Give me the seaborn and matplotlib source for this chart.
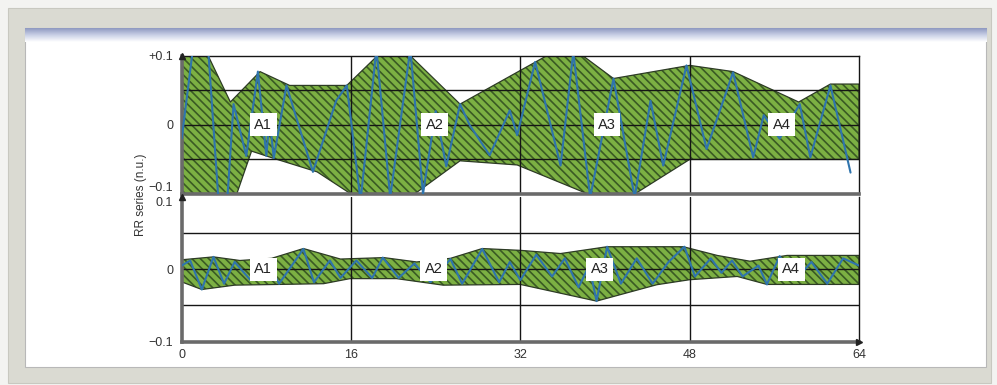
import numpy as np
import pandas as pd
import matplotlib
matplotlib.use("Agg")
import matplotlib.pyplot as plt
import seaborn as sns
from matplotlib.patches import Rectangle

# ---- RR series, upper panel (normalised units) ----
top_t = [0.0, 1.1, 2.5, 3.5, 4.3, 4.9, 6.1, 7.2, 8.0, 8.3, 8.7, 9.9, 12.4, 14.6, 15.6,
         16.9, 18.4, 19.7, 21.6, 22.8, 24.0, 25.0, 26.3, 27.2, 29.1, 31.0, 31.7, 33.4,
         35.8, 37.0, 38.6, 40.8, 42.8, 44.3, 45.5, 47.7, 49.6, 52.1, 54.0, 55.0, 56.5,
         58.4, 59.4, 61.3, 63.2]
top_rr = [-0.02, 0.115, 0.11, -0.115, -0.11, 0.03, -0.045, 0.077, -0.045, 0.01, -0.048,
          0.057, -0.068, 0.035, 0.057, -0.11, 0.11, -0.105, 0.11, -0.10, 0.02, -0.06,
          0.03, 0.0, -0.044, 0.021, -0.015, 0.091, -0.059, 0.105, -0.105, 0.067, -0.105,
          0.035, -0.059, 0.086, -0.035, 0.076, -0.047, 0.014, -0.02, 0.030, -0.047,
          0.057, -0.069]

# envelope of the upper panel
top_up_t = [0, 2.5, 4.6, 7.4, 10.2, 15.6, 18.5, 21.6, 26.3, 34.5, 37.9, 40.8, 48.0,
            52.1, 58.3, 61.3, 64]
top_up_v = [0.1, 0.1, 0.033, 0.077, 0.057, 0.057, 0.1, 0.1, 0.030, 0.1, 0.1, 0.067,
            0.086, 0.077, 0.033, 0.059, 0.059]
top_lo_t = [0, 5.2, 6.6, 8.6, 12.8, 16.0, 22.0, 26.3, 31.7, 38.4, 42.8, 48.0, 64]
top_lo_v = [-0.1, -0.1, -0.038, -0.048, -0.068, -0.1, -0.1, -0.052, -0.058, -0.1,
            -0.1, -0.05, -0.05]

# ---- RR series, lower panel ----
bot_t = [0, 0.8, 1.9, 3.0, 4.0, 5.0, 6.5, 8.0, 9.2, 11.5, 12.5, 14.0, 15.0, 16.5, 18.0,
         19.0, 20.5, 22.0, 23.5, 25.4, 26.5, 28.4, 30.0, 31.0, 32.0, 33.5, 35.0, 36.2,
         37.5, 38.5, 39.2, 40.2, 41.5, 43.0, 44.5, 46.0, 47.5, 48.5, 50.0, 51.0, 52.0,
         53.0, 54.5, 55.3, 56.5, 58.0, 59.5, 61.0, 62.5, 64]
bot_rr = [0.005, 0.012, -0.028, 0.017, -0.02, 0.01, -0.015, 0.012, -0.02, 0.028, -0.018,
          0.012, -0.012, 0.012, -0.012, 0.016, -0.012, 0.008, -0.018, 0.014, -0.02,
          0.028, -0.018, 0.01, -0.015, 0.02, -0.01, 0.015, -0.025, 0.005, -0.044, 0.031,
          -0.02, 0.015, -0.02, 0.01, 0.031, -0.01, 0.015, -0.005, 0.012, -0.01, 0.005,
          -0.021, 0.018, -0.015, 0.01, -0.02, 0.015, 0.005]

bot_up_t = [0, 3.0, 5.5, 8.5, 11.5, 15.0, 19.1, 22.2, 25.4, 28.4, 32.0, 35.8, 40.2,
            47.4, 50.6, 53.7, 57.2, 64]
bot_up_v = [0.013, 0.017, 0.012, 0.015, 0.0285, 0.014, 0.016, 0.010, 0.015, 0.0285,
            0.026, 0.0216, 0.031, 0.031, 0.019, 0.011, 0.019, 0.019]
bot_lo_t = [0, 1.9, 5.0, 13.4, 15.9, 20.3, 24.7, 32.0, 39.2, 44.9, 48.0, 52.5, 55.3, 64]
bot_lo_v = [-0.0175, -0.028, -0.022, -0.02, -0.013, -0.013, -0.022, -0.021, -0.044,
            -0.0214, -0.0145, -0.010, -0.021, -0.021]

seg_names = ["A1", "A2", "A3", "A4"]
top_label_t = [7.7, 23.9, 40.2, 56.7]
bot_label_t = [7.7, 23.8, 39.5, 57.6]
x_ticks = [0, 16, 32, 48, 64]
top_ytick_labels = ["\u22120.1", "0", "+0.1"]
bot_ytick_labels = ["\u22120.1", "0", "0.1"]

sns.set_style("white")
plt.rcParams["font.family"] = ["Liberation Sans", "DejaVu Sans"]
plt.rcParams["hatch.linewidth"] = 1.2

W, H = 997, 385
fig = plt.figure(figsize=(W / 100, H / 100), dpi=100)
fig.patch.set_facecolor("#f3f3f1")


def px_rect(x0, y0, x1, y1, **kw):
    """Rectangle given in pixel coordinates measured from the top-left corner."""
    r = Rectangle((x0 / W, 1 - y1 / H), (x1 - x0) / W, (y1 - y0) / H,
                  transform=fig.transFigure, **kw)
    fig.add_artist(r)
    return r


# window-style frame behind the chart
px_rect(8, 8, 991, 383, fc="#dadad2", ec="#c8c8c0", lw=0.8, zorder=-10)
px_rect(25, 28, 986, 367, fc="white", ec="#b8b8b8", lw=0.8, zorder=-9)
bar_ax = fig.add_axes([25 / W, 1 - 42 / H, (986 - 25) / W, 14 / H], zorder=-8)
grad = np.linspace(0, 1, 64)[:, None]
bar_ax.imshow(grad, aspect="auto", cmap=matplotlib.colors.LinearSegmentedColormap.from_list(
    "bar", ["#8e98c0", "#c9d0e6", "#ffffff"]), extent=[0, 1, 0, 1], origin="upper")
bar_ax.set_axis_off()

x_left, x_right = 181.7, 859
ax_top = fig.add_axes([x_left / W, 1 - 194 / H, (x_right - x_left) / W, (194 - 55.7) / H])
ax_bot = fig.add_axes([x_left / W, 1 - 341.7 / H, (x_right - x_left) / W, (341.7 - 196.7) / H])

fill_light = "#7cb043"
hatch_dark = "#3a5a24"
blue = "#2f74ad"
spine_gray = "#6a6a6a"

panels = [
    (ax_top, top_t, top_rr, top_up_t, top_up_v, top_lo_t, top_lo_v, top_label_t, top_ytick_labels),
    (ax_bot, bot_t, bot_rr, bot_up_t, bot_up_v, bot_lo_t, bot_lo_v, bot_label_t, bot_ytick_labels),
]

for ax, t, rr, ut, uv, lt, lv, lab_t, ylabels in panels:
    ax.set_facecolor("none")
    # envelope polygon: upper boundary forward, lower boundary backward
    poly_x = list(ut) + list(lt)[::-1]
    poly_y = list(uv) + list(lv)[::-1]
    ax.fill(poly_x, poly_y, facecolor=fill_light, edgecolor=hatch_dark,
            hatch="\\\\\\\\", linewidth=0, zorder=1)
    ax.plot(poly_x + [poly_x[0]], poly_y + [poly_y[0]], color="#2d3b25", lw=0.9, zorder=1.5)

    # reference grid
    for yv in (-0.05, 0, 0.05):
        ax.axhline(yv, color="#151515", lw=1.0, zorder=2)
    for xv in (16, 32, 48):
        ax.axvline(xv, color="#151515", lw=1.0, zorder=2)

    df = pd.DataFrame({"t": t, "rr": rr})
    sns.lineplot(data=df, x="t", y="rr", ax=ax, color=blue, lw=1.5,
                 estimator=None, sort=False, zorder=3)

    for name, xl in zip(seg_names, lab_t):
        ax.text(xl, 0, name, ha="center", va="center", fontsize=10.5, color="#222222",
                zorder=4, bbox=dict(boxstyle="square,pad=0.3", fc="white", ec="none"))

    ax.set_xlim(0, 64)
    ax.set_ylim(-0.1, 0.1)
    ax.set_xlabel("")
    ax.set_ylabel("")
    ax.set_yticks([-0.1, 0, 0.1])
    ax.set_yticklabels(ylabels)
    ax.tick_params(axis="y", length=0, pad=6, labelsize=9, labelcolor="#333333")
    ax.spines["left"].set_color(spine_gray)
    ax.spines["left"].set_linewidth(2.6)
    ax.spines["bottom"].set_color(spine_gray)
    ax.spines["bottom"].set_linewidth(2.6)
    ax.spines["right"].set_color("#151515")
    ax.spines["right"].set_linewidth(1.0)
    # small arrow head on top of the value axis
    ax.plot(0, 1, marker="^", ms=4, color="#222222", transform=ax.transAxes,
            clip_on=False, zorder=5)

ax_top.spines["top"].set_color("#151515")
ax_top.spines["top"].set_linewidth(1.0)
ax_top.set_xticks([])
ax_bot.spines["top"].set_visible(False)
ax_bot.set_xticks(x_ticks)
ax_bot.set_xticklabels([str(v) for v in x_ticks])
ax_bot.tick_params(axis="x", length=0, pad=5, labelsize=9, labelcolor="#333333")
ax_bot.plot(1, 0, marker=">", ms=4, color="#222222", transform=ax_bot.transAxes,
            clip_on=False, zorder=5)

# nudge the stacked tick labels apart where the panels meet
for lbl in ax_top.get_yticklabels():
    if lbl.get_text() == "\u22120.1":
        lbl.set_va("bottom")
for lbl in ax_bot.get_yticklabels():
    if lbl.get_text() == "0.1":
        lbl.set_va("top")

fig.text(141 / W, 1 - 195 / H, "RR series (n.u.)", rotation=90, ha="center",
         va="center", fontsize=8.5, color="#333333")

fig.savefig("out.png", dpi=100, facecolor=fig.get_facecolor())
